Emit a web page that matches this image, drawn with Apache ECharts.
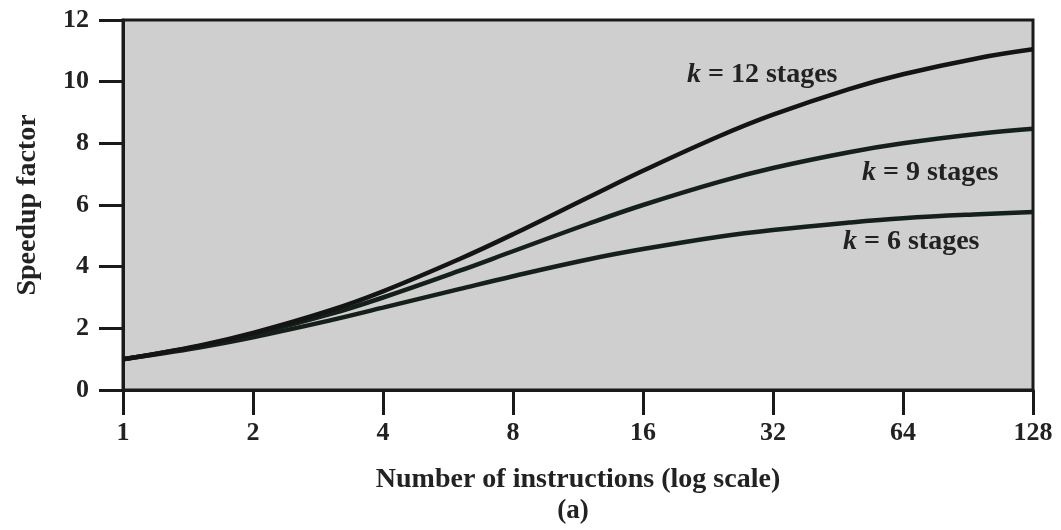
<!DOCTYPE html>
<html>
<head>
<meta charset="utf-8">
<script src="https://cdn.jsdelivr.net/npm/echarts@6/dist/echarts.min.js"></script>
<style>html,body{margin:0;padding:0;background:#fff;}#c{width:1061px;height:530px;}</style>
</head>
<body>
<div id="c"></div>
<script>
// Number of instructions (x, log scale)
const instructions = [1, 1.5, 2, 3, 4, 6, 8, 12, 16, 24, 32, 48, 64, 96, 128];
// Speedup factor
const speedupK12 = [1.00, 1.44, 1.85, 2.57, 3.20, 4.24, 5.05, 6.26, 7.11, 8.23, 8.93, 9.76, 10.24, 10.77, 11.05];
const speedupK9  = [1.00, 1.42, 1.80, 2.45, 3.00, 3.86, 4.50, 5.40, 6.00, 6.75, 7.20, 7.71, 8.00, 8.31, 8.47];
const speedupK6  = [1.00, 1.38, 1.71, 2.25, 2.67, 3.27, 3.69, 4.24, 4.57, 4.97, 5.19, 5.43, 5.57, 5.70, 5.77];
const seriesNames = ['k = 12 stages', 'k = 9 stages', 'k = 6 stages'];
const xTicks = [1, 2, 4, 8, 16, 32, 64, 128];
const yTicks = [0, 2, 4, 6, 8, 10, 12];

const FONT = '"Liberation Serif", "DejaVu Serif", serif';
const pair = arr => instructions.map((x, i) => [x, arr[i]]);

const chart = echarts.init(document.getElementById('c'), null, {renderer: 'canvas'});
const lineColors = ['#141414', '#16201a', '#16201a'];
const allData = [speedupK12, speedupK9, speedupK6];

chart.setOption({
  animation: false,
  backgroundColor: '#ffffff',
  grid: {
    left: 123, right: 28, top: 20, bottom: 140,
    containLabel: false, outerBoundsMode: 'none',
    show: true, backgroundColor: '#cfcfcf', borderColor: '#1a1a1a', borderWidth: 3
  },
  xAxis: {
    type: 'log', logBase: 2, min: 1, max: 128,
    name: 'Number of instructions (log scale)',
    nameLocation: 'middle', nameGap: 76,
    nameTextStyle: {fontFamily: FONT, fontWeight: 'bold', fontSize: 28, color: '#222'},
    axisLine: {show: true, lineStyle: {color: '#1a1a1a', width: 3}},
    axisTick: {show: true, inside: false, length: 25, lineStyle: {color: '#1a1a1a', width: 3}},
    minorTick: {show: false},
    splitLine: {show: false},
    axisLabel: {
      margin: 30, fontFamily: FONT, fontWeight: 'bold', fontSize: 26, color: '#222',
      formatter: v => (xTicks.indexOf(Math.round(v)) >= 0 ? String(Math.round(v)) : '')
    }
  },
  yAxis: {
    type: 'value', min: yTicks[0], max: yTicks[yTicks.length - 1], interval: 2,
    name: 'Speedup factor', nameLocation: 'middle', nameGap: 81, nameRotate: 90,
    nameTextStyle: {fontFamily: FONT, fontWeight: 'bold', fontSize: 28, color: '#222'},
    axisLine: {show: true, lineStyle: {color: '#1a1a1a', width: 3}},
    axisTick: {show: true, inside: false, length: 24, lineStyle: {color: '#1a1a1a', width: 3}},
    splitLine: {show: false},
    axisLabel: {margin: 34, fontFamily: FONT, fontWeight: 'bold', fontSize: 26, color: '#222'}
  },
  series: allData.map((d, i) => ({
    name: seriesNames[i],
    type: 'line',
    data: pair(d),
    smooth: 0.4,
    showSymbol: false,
    lineStyle: {color: lineColors[i], width: 4.5},
    z: 3 - i
  })),
  graphic: [
    {type: 'text', x: 573, y: 511,
     style: {text: '(a)', font: 'bold 27px ' + FONT, fill: '#222', align: 'center', verticalAlign: 'middle'}},
    ...[
      {t: '12', x: 687, y: 75},
      {t: '9', x: 862, y: 173},
      {t: '6', x: 843, y: 242}
    ].map(o => ({
      type: 'text', x: o.x, y: o.y, z: 10,
      style: {
        text: '{k|k} = ' + o.t + ' stages',
        font: 'bold 28px ' + FONT, fill: '#222', verticalAlign: 'middle',
        rich: {k: {fontFamily: FONT, fontWeight: 'bold', fontStyle: 'italic', fontSize: 28, fill: '#222'}}
      }
    }))
  ]
});
</script>
</body>
</html>
